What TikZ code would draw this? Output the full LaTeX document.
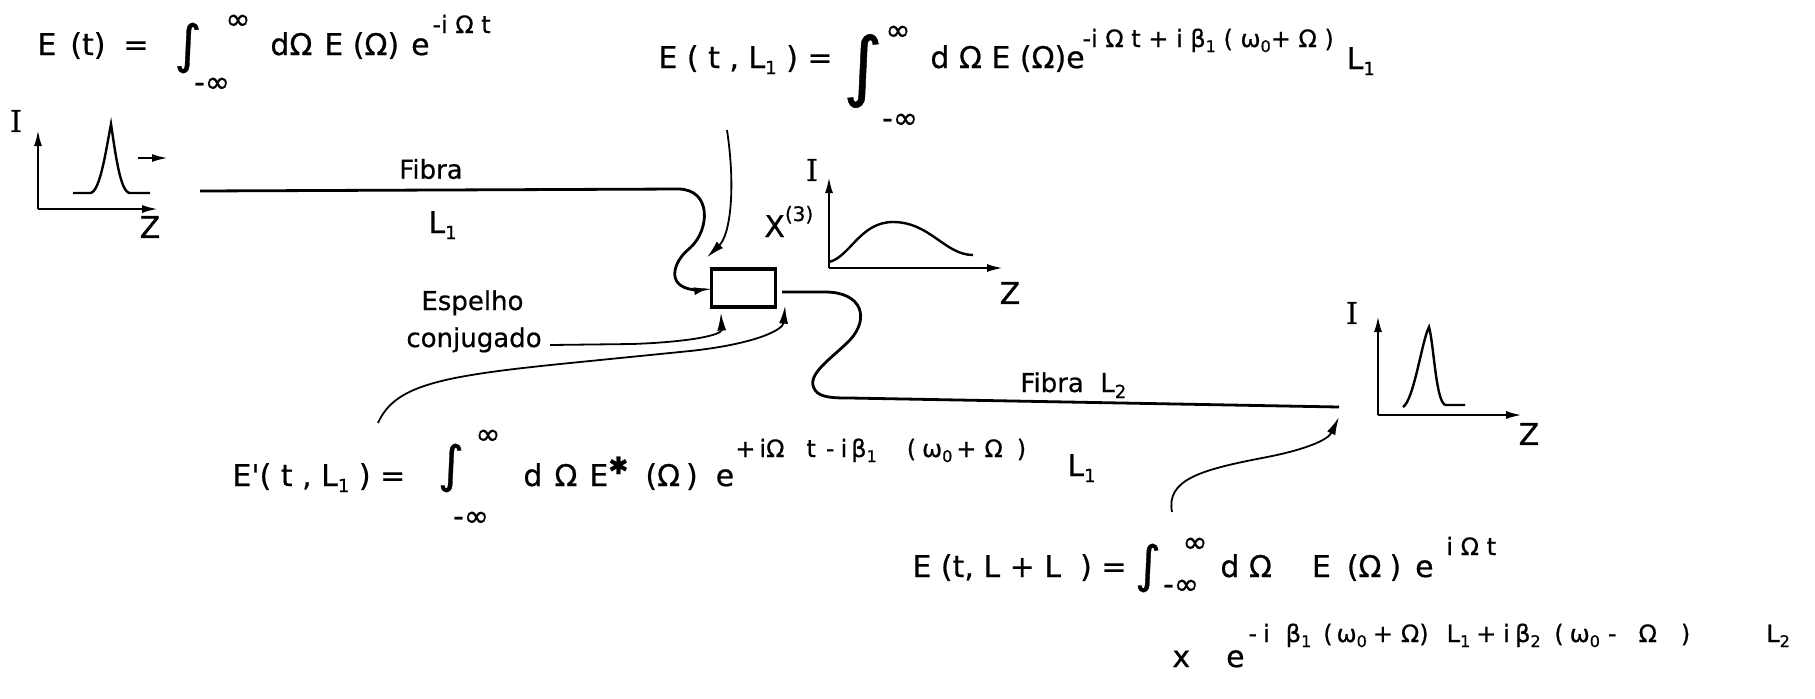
\documentclass[tikz,border=0pt]{standalone}
\usepackage{fontspec}
\setmainfont{DejaVu Sans}[FakeBold=0.6]
\newfontfamily\serifI{DejaVu Serif}[FakeBold=0.6]
\newfontfamily\expfont{DejaVu Sans}[FakeBold=0.6]
\usetikzlibrary{arrows.meta,positioning,calc}

% indices in the text and in the exponents
\newcommand{\dn}[1]{\raisebox{-3pt}{\fontsize{9}{9}\selectfont #1}}
\newcommand{\sdn}[1]{\raisebox{-2.5pt}{\fontsize{8}{8}\selectfont #1}}

\tikzset{
  eqtext/.style={anchor=base west, inner sep=0pt, font=\fontsize{15}{18}\selectfont},
  exptext/.style={anchor=base west, inner sep=0pt, font=\expfont\fontsize{12}{14}\selectfont},
  intsign/.style={inner sep=0pt, font=\fontsize{#1}{#1}\selectfont},
  limit/.style={inner sep=0pt, font=\fontsize{15}{15}\selectfont},
  lbl/.style={inner sep=0pt, font=\fontsize{13}{15}\selectfont},
  axlbl/.style={inner sep=0pt, font=\fontsize{15}{18}\selectfont},
  fibre/.style={line width=1.4pt},
  pointer/.style={line width=0.9pt, -{Latex[length=9pt,width=4.5pt]}},
  axisline/.style={line width=1.1pt, -{Latex[length=8pt,width=4pt]}},
  pulse/.style={line width=1.2pt}
}

\begin{document}
\begin{tikzpicture}[x=0.5pt,y=-0.5pt]
\useasboundingbox (0,0) rectangle (1815,698);

% E(t)
\node[eqtext] (lhsA) at (37,55) {E\hspace{7pt}(t)\hspace{9pt}=};
\node[intsign=26] (intA) at (188,48) {∫};
\node[limit] (supA) at (238,22) {∞};
\node[limit] (subA) at (212,85) {-∞};
\node[eqtext] (rhsA) at (270,55) {dΩ\hspace{6pt}E (Ω)\hspace{6pt}e};
\node[exptext] (expA) at (432,33) {-i Ω t};

% E(t,L1)
\node[eqtext] (lhsB) at (658,68) {E ( t , L\dn{1} ) =};
\node[intsign=38] (intB) at (863,71) {∫};
\node[limit] (supB) at (898,33) {∞};
\node[limit] (subB) at (900,121) {-∞};
\node[eqtext] (rhsB) at (930,68) {d Ω\ E (Ω)e};
\node[exptext] (expB) at (1082,47) {-i Ω t + i β\sdn{1} ( ω\sdn{0}+ Ω )};
\node[eqtext] (lB) at ($(expB.base east)+(12,22)$) {L\dn{1}};

% E'(t,L1)
\node[eqtext] (lhsC) at (232,486) {E\textquotesingle( t , L\dn{1} ) =};
\node[intsign=25] (intC) at (451,468) {∫};
\node[limit] (supC) at (488,437) {∞};
\node[limit] (subC) at (471,519) {-∞};
\node[eqtext] (rhsC) at (523,486) {d\hspace{6pt}Ω\hspace{6pt}E\raisebox{6pt}{\fontsize{12}{12}\selectfont ✱}\hspace{8.5pt}(Ω\hspace{3pt})\hspace{9pt}e};
\node[exptext] (expC) at (735,457) {+\hspace{2pt}iΩ\hspace{11pt}t\hspace{5pt}-\hspace{3pt}i\hspace{2pt}β\sdn{1}\hspace{15pt}(\hspace{3pt}ω\sdn{0}\hspace{2pt}+\hspace{4pt}Ω\hspace{7pt})};
\node[eqtext] (lC) at (1067,476) {L\dn{1}};

% E(t,L+L)
\node[eqtext] (lhsD) at (912,577) {E (t, L + L\ \ ) =};
\node[intsign=25] (intD) at (1148,568) {∫};
\node[limit] (supD) at (1195,545) {∞};
\node[limit] (subD) at (1181,587) {-∞};
\node[eqtext] (rhsD) at (1220,577) {d Ω\hspace{20pt}E\hspace{8pt}(Ω\hspace{4pt})\hspace{7pt}e};
\node[exptext] (expD) at (1446,555) {i Ω t};
\node[eqtext] (rhsE) at (1172,667) {x\hspace{18pt}e};
\node[exptext] (expE) at (1248,642) {-\hspace{3pt}i\hspace{8pt}β\sdn{1}\hspace{6pt}(\hspace{2pt}ω\sdn{0}\hspace{3pt}+\hspace{4pt}Ω)\hspace{9pt}L\sdn{1}\hspace{3pt}+\hspace{3.4pt}i\hspace{2.7pt}β\sdn{2}\hspace{6.8pt}(\hspace{3pt}ω\sdn{0}\hspace{4pt}-\hspace{11pt}Ω\hspace{12pt})\hspace{38pt}L\sdn{2}};

% input pulse
\coordinate (oA) at (38,209);
\draw[axisline] (oA) -- (38,130);
\draw[axisline] (oA) -- (158,209);
\node[axlbl] (IA) at (16,121) {\serifI I};
\node[axlbl] (ZA) at (150,227) {Z};
\draw[pulse] (73,193) -- (90,193) .. controls (100,193) and (106,150) .. (111,124) .. controls (115,150) and (120,193) .. (130,193) -- (150,193);
\draw[axisline] (138,158) -- (168,158);

% conjugating mirror
\node[draw, line width=1.6pt, minimum width=32pt, minimum height=19pt, inner sep=0pt] (mir) at (743.5,288) {};
\node[eqtext] (chi) at (764,237) {X\raisebox{8pt}{\fontsize{10}{10}\selectfont (3)}};

% fibre L1
\coordinate (fA) at (200,191);
\node[lbl] (fibA) at (431,169) {Fibra};
\node[eqtext] (lA) at (428,233) {L\dn{1}};
\draw[fibre, -{Latex[length=8pt,width=4pt]}] (fA) -- (678,189) .. controls (712,189) and (710,230) .. (690,248) .. controls (672,262) and (664,290) .. (700,290) -- (mir.west);

\coordinate (sB) at (727,130);
\draw[pointer] (sB) .. controls (736,190) and (730,235) .. ($(mir.north west)+(-3,-10)$);

\node[lbl, anchor=base west] (espA) at (421,310) {Espelho};
\node[lbl, anchor=base west] (espB) at (406,347) {conjugado};
\draw[pointer] ($(espB.base east)+(8,-2)$) -- (632,344) .. controls (690,342) and (722,335) .. ($(mir.south west)+(11,4)$);

\coordinate (sC) at (378,423);
\draw[pointer] (sC) .. controls (395,385) and (440,376) .. (570,363) -- (690,351) .. controls (755,344) and (783,330) .. ($(mir.south east)+(8,-3)$);

% middle graph
\coordinate (oB) at (829,268);
\draw[axisline] (oB) -- (829,177);
\draw[axisline] (oB) -- (1003,268);
\node[axlbl] (IB) at (812,170) {\serifI I};
\node[axlbl] (ZB) at (1010,293) {Z};
\draw[pulse] (829,262) .. controls (850,257) and (860,222) .. (893,222) .. controls (930,222) and (945,255) .. (973,255);

% fibre L2
\coordinate (fB) at (1339,407);
\draw[fibre] ($(mir.east)+(5,4)$) -- (825,292) .. controls (862,292) and (870,318) .. (850,340) .. controls (830,360) and (805,375) .. (815,390) .. controls (820,398) and (835,398) .. (850,398) -- (fB);
\node[lbl, anchor=base west] (fibB) at (1020,392) {Fibra\ \ L\dn{2}};

\coordinate (sD) at (1172,512);
\draw[pointer] (sD) .. controls (1166,480) and (1200,470) .. (1262,458) .. controls (1305,450) and (1328,440) .. ($(fB)+(0,10)$);

% output pulse
\coordinate (oC) at (1378,415);
\draw[axisline] (oC) -- (1378,316);
\draw[axisline] (oC) -- (1522,415);
\node[axlbl] (IC) at (1352,313) {\serifI I};
\node[axlbl] (ZC) at (1529,434) {Z};
\draw[pulse] (1403,407) .. controls (1414,400) and (1422,340) .. (1429,327) .. controls (1434,345) and (1436,405) .. (1446,405) -- (1465,405);
\end{tikzpicture}
\end{document}
